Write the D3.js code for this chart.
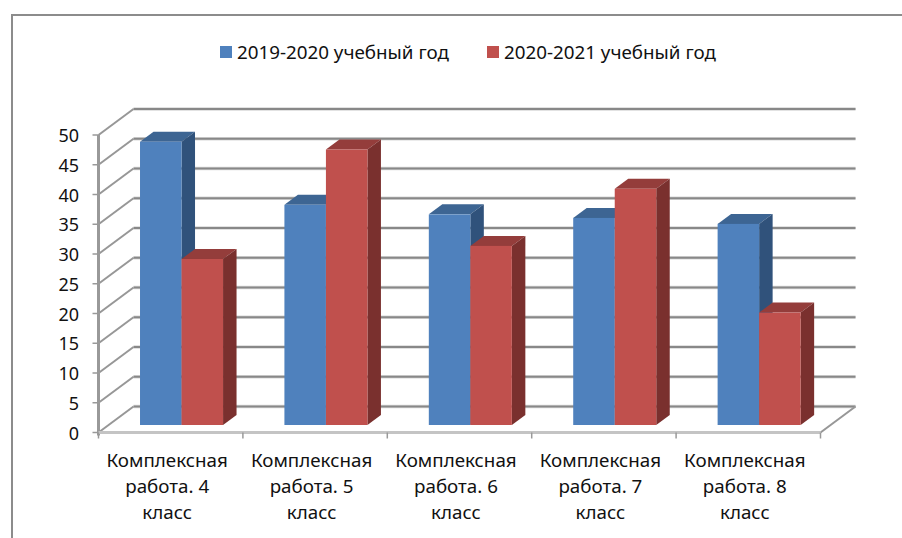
<!DOCTYPE html>
<html><head><meta charset="utf-8">
<script src="https://cdn.jsdelivr.net/npm/d3@7/dist/d3.min.js"></script>
<style>html,body{margin:0;padding:0;background:#fff}svg{display:block}text{font-family:"Noto Sans",sans-serif;fill:#111}</style>
</head><body><svg id="c" width="902" height="538"></svg>
<script>
const categories = ["4", "5", "6", "7", "8"];
const categoryLines = [["Комплексная","работа. 4","класс"],["Комплексная","работа. 5","класс"],["Комплексная","работа. 6","класс"],["Комплексная","работа. 7","класс"],["Комплексная","работа. 8","класс"]];
const seriesNames = ["2019-2020 учебный год", "2020-2021 учебный год"];
const series2019 = [47.6, 37, 35.4, 34.8, 33.8];
const series2020 = [27.9, 46.3, 30.1, 39.7, 18.9];
const yTicks = [0,5,10,15,20,25,30,35,40,45,50];

const svg = d3.select("#c");
const y = d3.scaleLinear().domain([0,50]).range([432.5,135]);
const x = d3.scaleBand().domain(categories).range([98.5,820.5]);
const grid = "#888888", depthX = 35, depthY = -26;

// chart frame: open on the right, running off the picture
svg.append("path").attr("d","M12,538V15H902").attr("fill","none").attr("stroke","#8c8c8c").attr("stroke-width",2);

// walls
const halo = svg.append("g").attr("fill","none").attr("stroke","#d8d8d8").attr("stroke-width",3.5);
const g = svg.append("g").attr("fill","none").attr("stroke",grid).attr("stroke-width",2);
yTicks.forEach(t=>{
  const yb = y(t)+depthY, x0 = x.range()[0], x1 = x.range()[1];
  halo.append("line").attr("x1",x0+depthX).attr("x2",x1+depthX).attr("y1",yb).attr("y2",yb);
  g.append("line").attr("x1",x0+depthX).attr("x2",x1+depthX).attr("y1",yb).attr("y2",yb);
  g.append("line").attr("x1",x0).attr("y1",y(t)).attr("x2",x0+depthX).attr("y2",yb).attr("stroke","#979797");
  g.append("line").attr("x1",x0-6).attr("x2",x0).attr("y1",y(t)).attr("y2",y(t)).attr("stroke-width",1.5).attr("stroke","#999");
});
g.append("line").attr("x1",x.range()[1]).attr("y1",y(0)).attr("x2",x.range()[1]+depthX).attr("y2",y(0)+depthY).attr("stroke","#979797");
g.append("line").attr("x1",x.range()[0]).attr("y1",y(0)+3).attr("x2",x.range()[0]).attr("y2",y(50)).attr("stroke-width",3).attr("stroke","#999");
g.append("line").attr("x1",x.range()[0]).attr("y1",y(0)).attr("x2",x.range()[1]).attr("y2",y(0)).attr("stroke-width",3).attr("stroke","#c4c4c4");
[...categories.map(c=>x(c)),x.range()[1]].forEach(v=>g.append("line").attr("x1",v).attr("x2",v).attr("y1",y(0)).attr("y2",y(0)+6).attr("stroke-width",1.5).attr("stroke","#999"));

// bars
const barW = x.bandwidth()*0.2875, barX = x.bandwidth()*0.2875, bDx = 13.5, bDy = -10, bShift = -7.5;
const colors = [{f:"#4f81bd",t:"#3d6593",s:"#30527b"},{f:"#c0504d",t:"#943d3b",s:"#7a302e"}];
function bar(cat,val,i){
  const l = x(cat)+barX+i*barW, r = l+barW, top = y(val)+bShift, bot = y(0)+bShift;
  const b = svg.append("g");
  b.append("path").attr("d",`M${l},${top}L${l+bDx},${top+bDy}H${r+bDx}L${r},${top}Z`).attr("fill",colors[i].t);
  b.append("path").attr("d",`M${r},${top}L${r+bDx},${top+bDy}V${bot+bDy}L${r},${bot}Z`).attr("fill",colors[i].s);
  b.append("rect").attr("x",l).attr("y",top).attr("width",barW).attr("height",bot-top).attr("fill",colors[i].f);
}
categories.forEach((c,k)=>{ bar(c,series2019[k],0); bar(c,series2020[k],1); });

// y labels
svg.append("g").selectAll("text").data(yTicks).join("text")
  .attr("x",79).attr("y",d=>y(d)+7).attr("text-anchor","end").attr("font-size",18).text(d=>d);

// x labels
categories.forEach((c,k)=>{
  categoryLines[k].forEach((t,j)=>{
    svg.append("text").attr("x",x(c)+x.bandwidth()/2-3.5).attr("y",467+j*26).attr("text-anchor","middle").attr("font-size",18.8).text(t);
  });
});

// legend
[[220,237],[487,504]].forEach((p,i)=>{
  svg.append("rect").attr("x",p[0]).attr("y",46).attr("width",12).attr("height",12).attr("fill",colors[i].f);
  svg.append("text").attr("x",p[1]).attr("y",59).attr("font-size",18.8).text(seriesNames[i]);
});
</script></body></html>
